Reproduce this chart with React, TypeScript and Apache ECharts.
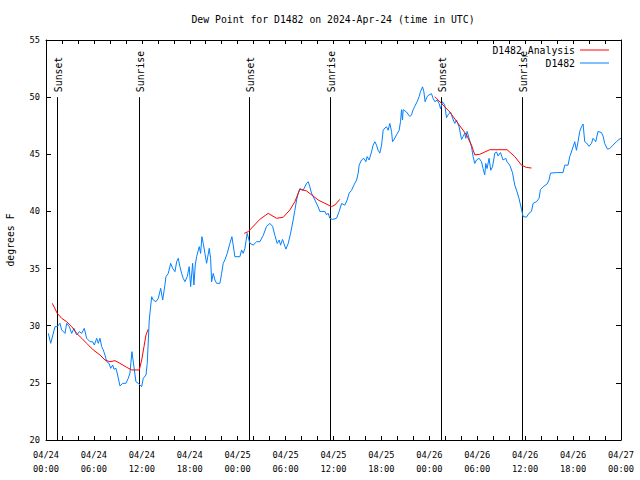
import React, { useEffect, useRef } from "react";
import * as echarts from "echarts";

const TITLE = "Dew Point for D1482 on 2024-Apr-24 (time in UTC)";
const Y_NAME = "degrees F";
const OBS_NAME = "D1482";
const ANA_NAME = "D1482_Analysis";
const X_MIN = 0; // hours since 2024-04-24 00:00 UTC
const X_MAX = 72;
const Y_MIN = 20;
const Y_MAX = 55;
const dayLabels = ["04/24", "04/25", "04/26", "04/27"];

// observed dew point (hours since start, degrees F)
const obsHours = [
  0.29, 0.59, 1.13, 1.41, 1.75, 1.97, 2.38, 2.59, 2.92, 3.22, 3.5, 3.84, 4.17, 4.47, 4.79, 5.09, 5.51, 5.84,
  6.05, 6.35, 6.55, 6.76, 6.97, 7.17, 7.38, 7.6, 7.89, 8.1, 8.35, 8.51, 8.76, 8.97, 9.26, 9.6, 10.01, 10.3,
  10.51, 10.76, 11.01, 11.26, 11.55, 11.98, 12.18, 12.52, 12.68, 12.93, 13.23, 13.43, 13.77, 14.06, 14.36,
  14.61, 14.89, 15.02, 15.31, 15.61, 15.86, 16.15, 16.36, 16.56, 16.77, 16.98, 17.18, 17.4, 17.68, 17.93,
  18.11, 18.36, 18.52, 18.69, 18.86, 19.19, 19.36, 19.52, 19.69, 19.9, 20.11, 20.44, 20.61, 20.74, 20.94,
  21.15, 21.36, 21.78, 21.99, 22.19, 22.4, 22.69, 23.03, 23.28, 23.44, 23.65, 24.28, 24.49, 24.69, 24.91,
  25.19, 25.53, 25.95, 26.37, 26.78, 27.2, 27.62, 28.04, 28.37, 28.66, 28.95, 29.2, 29.37, 29.62, 29.79,
  30.04, 30.33, 30.63, 30.95, 31.16, 31.38, 31.58, 31.79, 32.2, 32.63, 32.83, 33.04, 33.25, 33.67, 34.08,
  34.29, 34.92, 35.13, 35.33, 35.54, 35.88, 36.38, 36.71, 37.01, 37.42, 37.71, 37.96, 38.26, 38.55, 38.89,
  39.09, 39.21, 39.51, 39.8, 40.05, 40.21, 40.46, 40.76, 40.96, 41.18, 41.39, 41.59, 41.8, 42.02, 42.22,
  42.43, 42.64, 42.84, 43.05, 43.27, 43.39, 43.55, 43.89, 44.22, 44.39, 44.52, 44.64, 44.72, 45.14, 45.56,
  45.77, 45.97, 46.18, 46.47, 46.72, 46.9, 47.15, 47.31, 47.47, 47.72, 47.97, 48.27, 48.47, 48.69, 48.97,
  49.22, 49.4, 49.65, 49.94, 50.15, 50.35, 50.65, 51.0, 51.19, 51.4, 51.73, 52.03, 52.23, 52.44, 52.57,
  52.73, 52.98, 53.28, 53.48, 53.69, 53.9, 54.23, 54.53, 54.73, 54.94, 55.07, 55.23, 55.48, 55.69, 55.91,
  56.2, 56.41, 56.61, 56.91, 57.23, 57.57, 57.73, 58.07, 58.41, 58.7, 58.99, 59.24, 59.54, 59.74, 60.16,
  60.49, 60.79, 60.99, 61.41, 61.74, 61.91, 62.24, 62.74, 62.99, 63.17, 63.92, 64.74, 64.96, 65.37, 65.58,
  65.79, 66.0, 66.21, 66.42, 66.62, 66.83, 67.05, 67.25, 67.46, 67.67, 68.0, 68.3, 68.5, 68.84, 69.12,
  69.55, 69.75, 69.96, 70.3, 70.59, 71.0, 71.42, 71.75, 72.0,
];
const obsValues = [
  29.33, 28.46, 29.92, 29.92, 30.21, 29.63, 29.33, 30.21, 29.92, 29.33, 29.77, 29.19, 29.48, 29.33, 29.77,
  28.9, 28.6, 28.6, 28.31, 28.9, 28.46, 28.9, 28.17, 27.88, 27.44, 26.85, 26.71, 26.27, 26.56, 26.19, 26.27,
  25.69, 24.73, 24.96, 24.96, 25.4, 25.83, 27.73, 26.42, 25.1, 24.96, 24.67, 25.4, 25.69, 26.71, 30.5,
  32.54, 32.25, 32.1, 32.4, 33.27, 32.25, 33.56, 34.29, 34.58, 35.46, 35.02, 34.73, 35.6, 35.9, 35.17,
  34.58, 34.15, 33.85, 34.29, 35.17, 33.42, 35.46, 33.56, 35.31, 36.04, 36.92, 36.33, 37.79, 37.21, 36.33,
  35.46, 36.77, 35.9, 33.85, 34.58, 34.0, 33.71, 33.71, 34.58, 35.46, 35.75, 36.33, 37.21, 37.79, 37.06,
  36.04, 36.04, 36.63, 36.33, 36.77, 38.08, 37.21, 37.06, 37.35, 37.35, 37.9, 38.7, 38.95, 38.7, 37.9,
  37.2, 37.5, 37.05, 37.55, 37.2, 36.7, 37.2, 38.1, 39.25, 40.1, 41.0, 41.6, 42.0, 41.85, 42.45, 42.6,
  42.15, 41.6, 41.0, 40.4, 40.0, 40.0, 39.7, 39.85, 39.4, 39.3, 39.4, 40.0, 40.7, 40.55, 41.0, 41.6, 41.85,
  42.3, 42.75, 43.35, 44.05, 44.5, 44.65, 44.35, 44.8, 44.5, 45.2, 45.8, 46.1, 45.8, 45.35, 45.1, 45.8,
  47.1, 47.3, 47.4, 47.1, 47.7, 47.0, 46.1, 46.25, 46.7, 47.1, 47.85, 48.9, 48.0, 48.9, 48.7, 48.3, 48.45,
  48.9, 49.2, 49.6, 50.05, 50.5, 50.9, 50.5, 49.6, 50.05, 50.2, 50.3, 49.9, 49.6, 49.75, 49.45, 49.0, 49.6,
  49.3, 48.2, 48.45, 48.7, 48.0, 47.7, 48.0, 47.4, 46.3, 46.55, 46.85, 46.4, 47.0, 46.4, 45.65, 44.8, 44.2,
  44.5, 44.65, 44.35, 43.75, 43.2, 44.2, 43.75, 44.65, 43.6, 43.9, 45.1, 45.2, 44.85, 45.15, 44.5, 44.65,
  44.35, 44.05, 43.4, 42.3, 41.7, 41.1, 40.2, 39.55, 39.5, 39.85, 40.0, 40.7, 40.85, 41.15, 41.9, 42.15,
  42.4, 42.75, 43.35, 43.4, 43.4, 44.05, 44.05, 44.8, 45.2, 45.65, 46.1, 45.35, 46.1, 47.0, 47.4, 47.65,
  46.1, 46.0, 45.7, 45.95, 46.4, 46.1, 47.0, 46.9, 46.6, 45.95, 45.45, 45.5, 45.8, 46.1, 46.3, 46.4,
];

// analysis, three night-time segments
const anaHours1 = [0.79, 1.41, 1.96, 2.59, 3.22, 3.84, 4.47, 5.09, 5.92, 6.76, 7.38, 8.01, 8.64, 9.26, 10.1, 10.73, 11.68, 11.98, 12.27, 12.52, 12.8];
const anaValues1 = [31.96, 31.08, 30.65, 30.35, 29.92, 29.33, 28.9, 28.46, 27.88, 27.44, 27.0, 26.85, 26.94, 26.71, 26.36, 26.13, 26.13, 27.0, 28.17, 29.19, 29.69];
const anaHours2 = [24.82, 25.32, 26.78, 27.82, 28.87, 29.7, 30.54, 31.16, 31.79, 32.63, 33.45, 34.08, 34.92, 35.76, 36.17, 36.8];
const anaValues2 = [38.08, 38.23, 39.31, 39.83, 39.4, 39.49, 40.13, 40.85, 41.94, 41.79, 41.35, 41.0, 40.71, 40.42, 40.56, 41.06];
const anaHours3 = [48.69, 49.52, 50.56, 51.6, 52.65, 53.28, 53.69, 54.32, 55.57, 57.73, 58.7, 59.54, 60.16, 60.79];
const anaValues3 = [50.04, 49.45, 48.7, 47.7, 46.7, 45.8, 44.95, 45.0, 45.4, 45.4, 44.8, 44.05, 43.85, 43.8];

const sunNames = ["Sunset", "Sunrise", "Sunset", "Sunrise", "Sunset", "Sunrise"];
const sunHours = [1.41, 11.68, 25.44, 35.58, 49.52, 59.61];
const SUN_LINE_TOP = 50;

const FONT = "DejaVu Sans Mono";
const RED = "#ff0000";
const BLUE = "#0080ff";

const pair = (h: number[], v: number[]) => h.map((x, i) => [x, v[i]]);

export default function App() {
  const ref = useRef<HTMLDivElement>(null);
  useEffect(() => {
    if (!ref.current) return;
    const chart = echarts.init(ref.current, null, { renderer: "svg" });
    const xLabel = (v: number) => {
      const d = Math.floor(v / 24);
      const hh = Math.round(v - d * 24);
      return `${dayLabels[d]}\n${String(hh).padStart(2, "0")}:00`;
    };
    const xCommon = {
      type: "value",
      min: X_MIN,
      max: X_MAX,
      interval: 6,
      axisLine: { show: true, onZero: false, lineStyle: { color: "#000", width: 1 } },
      axisTick: { show: true, inside: true, length: 4, lineStyle: { color: "#000" } },
      minorTick: { show: true, splitNumber: 3, length: 4, lineStyle: { color: "#000" } },
      splitLine: { show: false },
      minorSplitLine: { show: false },
    };
    const yCommon = {
      type: "value",
      min: Y_MIN,
      max: Y_MAX,
      interval: 5,
      axisLine: { show: true, onZero: false, lineStyle: { color: "#000", width: 1 } },
      axisTick: { show: true, inside: true, length: 5, lineStyle: { color: "#000" } },
      splitLine: { show: false },
    };
    const lineSeries = (name: string, data: number[][], color: string, z: number) => ({
      type: "line",
      name,
      data,
      symbol: "none",
      showSymbol: false,
      color,
      lineStyle: { color, width: 1 },
      itemStyle: { color },
      z,
      animation: false,
    });
    const legendCommon = {
      orient: "vertical",
      right: 31,
      align: "right",
      icon: "rect",
      itemWidth: 29,
      itemHeight: 1,
      padding: 0,
      selectedMode: false,
      textStyle: { fontFamily: FONT, fontSize: 9.8, color: "#000" },
    };
    chart.setOption({
      animation: false,
      backgroundColor: "#fff",
      title: {
        text: TITLE,
        left: 333,
        top: 14,
        textAlign: "center",
        padding: 0,
        textStyle: { fontFamily: FONT, fontSize: 9.8, fontWeight: "normal", color: "#000" },
      },
      legend: [
        { ...legendCommon, data: [ANA_NAME], top: 45 },
        { ...legendCommon, data: [OBS_NAME], top: 58 },
      ],
      grid: { left: 46, right: 19, top: 40, bottom: 40, containLabel: false, outerBoundsMode: "none" },
      xAxis: [
        {
          ...xCommon,
          position: "bottom",
          axisLabel: { formatter: xLabel, fontFamily: FONT, fontSize: 8.7, color: "#000", margin: 8, lineHeight: 14 },
        },
        { ...xCommon, position: "top", axisLabel: { show: false } },
      ],
      yAxis: [
        {
          ...yCommon,
          position: "left",
          name: Y_NAME,
          nameLocation: "middle",
          nameRotate: 90,
          nameGap: 31,
          nameTextStyle: { fontFamily: FONT, fontSize: 9.8, color: "#000" },
          axisLabel: { fontFamily: FONT, fontSize: 8.7, color: "#000", margin: 6 },
        },
        { ...yCommon, position: "right", axisLabel: { show: false } },
      ],
      series: [
        {
          type: "custom",
          name: "sun",
          silent: true,
          z: 1,
          data: sunHours.map((h, i) => [h, i]),
          renderItem: (_params: any, api: any) => {
            const h = api.value(0);
            const idx = api.value(1);
            const top = api.coord([h, SUN_LINE_TOP]);
            const bot = api.coord([h, Y_MIN]);
            const x = Math.floor(top[0]) + 0.5;
            return {
              type: "group",
              children: [
                {
                  type: "line",
                  shape: { x1: x, y1: top[1], x2: x, y2: bot[1] },
                  style: { stroke: "#000", lineWidth: 1 },
                },
                {
                  type: "text",
                  x: x + 0.5,
                  y: top[1] - 5,
                  rotation: Math.PI / 2,
                  style: {
                    text: sunNames[idx],
                    fill: "#000",
                    fontFamily: FONT,
                    fontSize: 9.8,
                    align: "left",
                    verticalAlign: "middle",
                  },
                },
              ],
            };
          },
        },
        lineSeries(OBS_NAME, pair(obsHours, obsValues), BLUE, 3),
        lineSeries(ANA_NAME, pair(anaHours1, anaValues1), RED, 4),
        lineSeries(ANA_NAME, pair(anaHours2, anaValues2), RED, 4),
        lineSeries(ANA_NAME, pair(anaHours3, anaValues3), RED, 4),
      ],
    });
    return () => chart.dispose();
  }, []);
  return (
    <div
      ref={ref}
      style={{ position: "fixed", left: 0, top: 0, width: 640, height: 480, background: "#fff" }}
    />
  );
}
